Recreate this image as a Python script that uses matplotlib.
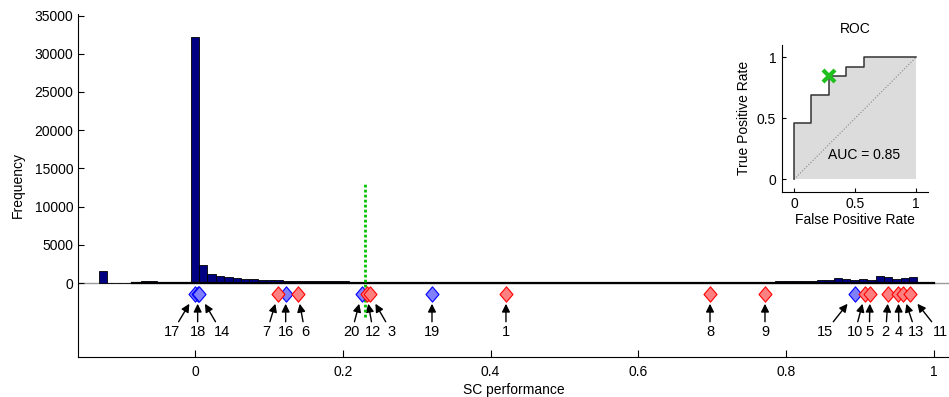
import numpy as np
import matplotlib
matplotlib.use('Agg')
import matplotlib.pyplot as plt
from matplotlib.path import Path

plt.rcParams['font.family'] = ['Liberation Sans', 'DejaVu Sans']
plt.rcParams['font.size'] = 9.5

# histogram of SC performance (100 bins)
bin_lo = -0.13
bin_w = 0.0113
counts = [1650, 0, 0, 0, 20, 260, 260, 180, 170, 100,
          90, 32200, 2330, 1140, 960, 830, 700, 570, 480, 440,
          390, 350, 310, 300, 260, 250, 240, 230, 220, 220,
          210, 200, 170, 160, 150, 140, 130, 130, 120, 120,
          110, 110, 100, 100, 90, 90, 90, 80, 80, 80,
          80, 80, 70, 70, 70, 80, 70, 70, 70, 80,
          80, 80, 90, 90, 90, 100, 100, 100, 110, 110,
          120, 120, 130, 130, 140, 150, 150, 160, 170, 180,
          200, 300, 300, 260, 260, 260, 350, 350, 700, 480,
          350, 520, 390, 960, 740, 520, 610, 790, 0, 0]

# labelled cells
cell_ids = [17, 18, 14, 7, 16, 6, 20, 12, 3, 19, 1, 8, 9, 15, 10, 5, 2, 4, 13, 11]
cell_perf = [0.000, 0.0036, 0.006, 0.1127, 0.1227, 0.1394, 0.2256, 0.2323, 0.2368, 0.3207,
             0.4208, 0.6969, 0.7713, 0.8931, 0.9066, 0.9134, 0.9382, 0.9517, 0.9584, 0.9675]
cell_label_x = [-0.0307, 0.0036, 0.0361, 0.097, 0.1227, 0.1488, 0.212, 0.2413, 0.2662, 0.3207,
                0.4208, 0.6969, 0.7713, 0.8525, 0.8931, 0.9125, 0.9346, 0.9526, 0.9753, 1.0081]
cell_positive = [0, 0, 0, 1, 0, 1, 0, 1, 1, 0, 1, 1, 1, 0, 1, 1, 1, 1, 1, 1]

threshold = 0.23

# ROC curve
roc_fpr = [0, 0, 1/7, 1/7, 2/7, 2/7, 3/7, 3/7, 4/7, 4/7, 1]
roc_tpr = [0, 6/13, 6/13, 9/13, 9/13, 11/13, 11/13, 12/13, 12/13, 1, 1]
auc = 0.85

diamond_y = -1470
head_y = -2700
tail_y = -5050
label_y = -6420

fig = plt.figure(figsize=(9.49, 3.97), dpi=100)
ax = fig.add_axes([0.0822, 0.1008, 0.9178, 0.864])

edges = bin_lo + bin_w * np.arange(len(counts) + 1)
ax.axhline(0, color='#999999', lw=1, zorder=1)
ax.bar(edges[:-1], counts, width=bin_w, align='edge', color='#000080',
       edgecolor='k', linewidth=0.6, zorder=2)
ax.plot([edges[4], edges[-1]], [0, 0], color='k', lw=1.6, zorder=3)

ax.plot([threshold, threshold], [-4420, 13100], color='#00c000', lw=2,
        linestyle=(0, (1, 0.8)), zorder=4)

diamond = Path([(0, 1), (0.85, 0), (0, -1), (-0.85, 0), (0, 1)],
               [Path.MOVETO, Path.LINETO, Path.LINETO, Path.LINETO, Path.CLOSEPOLY])
perf = np.array(cell_perf)
pos = np.array(cell_positive) == 1
ax.plot(perf[~pos], np.full((~pos).sum(), diamond_y), ls='none', marker=diamond, ms=11,
        mfc='#8080ff', mec='#0000ff', mew=0.8, zorder=5)
ax.plot(perf[pos], np.full(pos.sum(), diamond_y), ls='none', marker=diamond, ms=11,
        mfc='#ff8080', mec='#ff0000', mew=0.8, zorder=6)

for cid, px, lx in zip(cell_ids, cell_perf, cell_label_x):
    fh = (head_y - label_y) / (diamond_y - label_y)
    ft = (tail_y - label_y) / (diamond_y - label_y)
    hx = lx + (px - lx) * fh
    tx = lx + (px - lx) * ft
    ax.annotate('', xy=(hx, head_y), xytext=(tx, tail_y),
                arrowprops=dict(arrowstyle='-|>', color='k', lw=1,
                                shrinkA=0, shrinkB=0, mutation_scale=12))
    ax.text(lx, label_y, str(cid), ha='center', va='center', fontsize=10.5, clip_on=False)

ax.set_xlim(-0.1583, 1.0203)
ax.set_ylim(-9660, 35200)
ax.set_yticks(np.arange(0, 35001, 5000))
ax.set_xticks([0, 0.2, 0.4, 0.6, 0.8, 1])
ax.set_xticklabels(['0', '0.2', '0.4', '0.6', '0.8', '1'])
ax.tick_params(axis='x', direction='in', length=5, pad=6, labelsize=10)
ax.tick_params(axis='y', direction='in', length=4.5, pad=3.5, labelsize=10)
ax.spines['top'].set_visible(False)
ax.spines['right'].set_visible(False)
ax.set_xlabel('SC performance', labelpad=3, fontsize=10)
ax.set_ylabel('Frequency', labelpad=7, fontsize=10)

# ROC inset
ax2 = fig.add_axes([0.8237, 0.5171, 0.1545, 0.3695])
ax2.fill_between(roc_fpr, roc_tpr, color='#dcdcdc', lw=0, zorder=1)
ax2.plot([0, 1], [0, 1], color='#888888', lw=0.8, linestyle=':', zorder=2)
ax2.plot(roc_fpr, roc_tpr, color='#333333', lw=1.1, zorder=3)
thr_fpr = np.mean(perf[~pos] > threshold)
thr_tpr = np.mean(perf[pos] > threshold)
ax2.plot(thr_fpr, thr_tpr, marker='x', ms=9, mew=3, color='#1fbf1f', zorder=4)
ax2.text(0.28, 0.2, f'AUC = {auc:.2f}', ha='left', va='center', fontsize=10)
ax2.set_xlim(-0.1, 1.1)
ax2.set_ylim(-0.1, 1.1)
ax2.set_xticks([0, 0.5, 1])
ax2.set_xticklabels(['0', '0.5', '1'])
ax2.set_yticks([0, 0.5, 1])
ax2.set_yticklabels(['0', '0.5', '1'])
ax2.tick_params(direction='in', length=3, pad=4, labelsize=10)
ax2.spines['top'].set_visible(False)
ax2.spines['right'].set_visible(False)
ax2.set_title('ROC', fontsize=10, pad=9)
ax2.set_xlabel('False Positive Rate', labelpad=1, fontsize=10)
ax2.set_ylabel('True Positive Rate', labelpad=4, fontsize=10)

fig.savefig('out.png', dpi=100)
